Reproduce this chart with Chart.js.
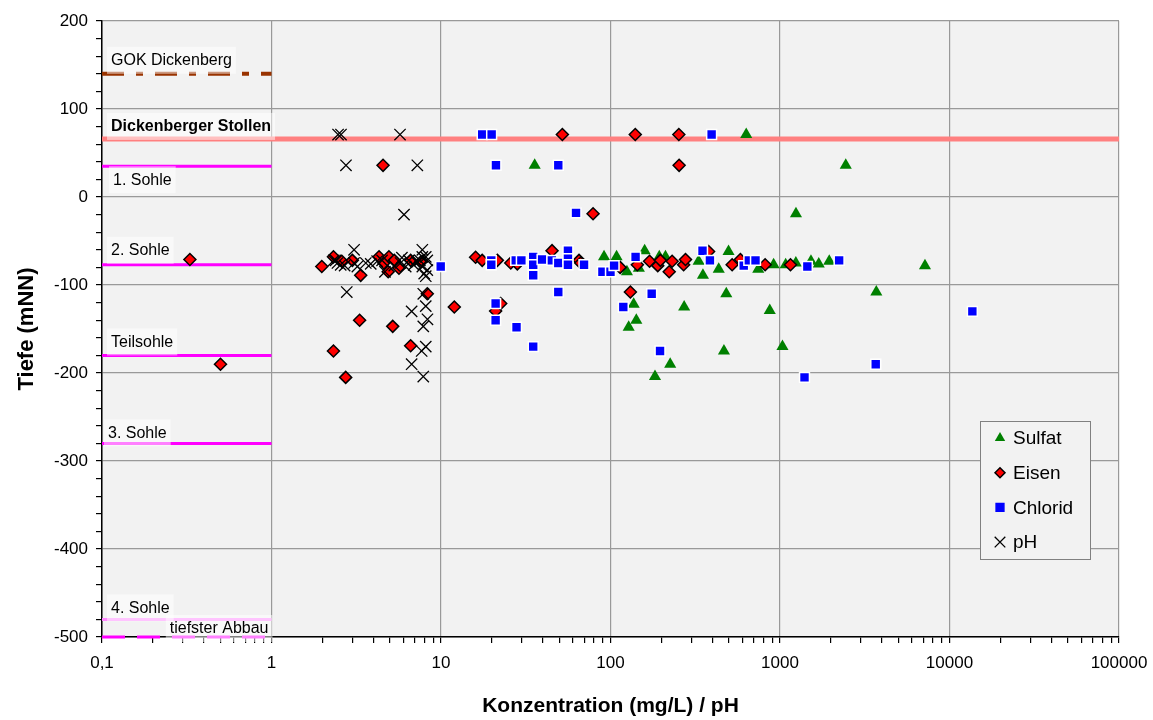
<!DOCTYPE html>
<html lang="de">
<head>
<meta charset="utf-8">
<title>Tiefe / Konzentration</title>
<script src="https://cdn.jsdelivr.net/npm/chart.js@4.4.1/dist/chart.umd.min.js"></script>
<style>
  html, body { margin: 0; padding: 0; background: #fff; }
  #wrap { width: 1153px; height: 720px; position: relative; }
</style>
</head>
<body>
<div id="wrap"><canvas id="chart"></canvas></div>
<script>
/* ── data: [Konzentration bzw. pH, Tiefe mNN] ── */
const sulfat = [
  [632, 71], [35.7, 36], [2443, 36], [1242, -19],
  [91.6, -68], [108.6, -68], [125, -85], [147, -81], [159, -61], [194, -68], [211, -68],
  [331, -73], [351, -89], [435, -82], [497, -62], [744, -82], [917, -77], [1080, -77],
  [1240, -75], [1523, -73], [1693, -76], [1952, -73], [7166, -78],
  [137, -122], [142, -140], [128, -148], [272, -125], [225, -190], [183, -204],
  [482, -110], [467, -175], [870, -129], [1034, -170], [3700, -108]
];
const eisen = [
  [52, 71], [140, 71], [253, 71], [4.55, 36], [254, 36], [78.9, -19],
  [0.33, -71], [0.5, -190],
  [1.98, -79], [2.32, -68], [2.6, -73], [3.0, -72], [3.36, -89], [4.31, -68], [4.6, -75],
  [4.93, -68], [4.88, -85], [5.3, -72], [5.65, -81], [6.62, -72], [7.6, -74],
  [8.3, -110], [3.31, -140], [5.19, -147], [2.32, -175], [6.62, -169], [2.74, -205],
  [11.98, -125], [22.5, -121], [21, -129.5], [131, -108],
  [16, -68.5], [17.5, -72], [21.5, -72], [25.8, -75], [28.2, -76], [45.2, -61], [65.2, -72],
  [66.8, -75], [114, -80], [144, -77], [170, -73], [190, -78], [197, -72], [222, -85],
  [231, -73], [270, -77], [277, -71], [379, -62], [522, -77], [584, -71], [817, -77], [1153, -77]
];
const chlorid = [
  [17.5, 71], [19.9, 71], [395, 71], [21.1, 36], [49.2, 36], [62.6, -18],
  [9.96, -79], [19.8, -72], [19.8, -77], [27.6, -72], [29.8, -72], [35, -68], [35, -77],
  [35, -89], [39.5, -71], [45.1, -72], [49.2, -75], [56.1, -61], [56.1, -70], [56.1, -77],
  [69.8, -77], [89.6, -85], [100, -85], [105, -78], [140.6, -68], [349, -61], [386, -72],
  [611, -78], [655, -72], [717, -72], [1450, -79], [2233, -72],
  [49.2, -108], [21, -121], [21, -140], [27.9, -148], [35, -170], [119, -125], [175, -110],
  [196, -175], [1395, -205], [13640, -130], [3671, -190]
];
const ph = [
  [2.47, 71], [2.57, 71], [5.73, 71], [2.75, 36], [7.25, 36], [6.05, -20],
  [2.33, -72], [2.45, -75], [2.56, -77], [2.39, -72], [2.7, -78], [3.07, -60], [3.07, -75],
  [3.21, -79], [3.6, -75], [3.85, -76], [4.2, -73], [4.49, -72], [4.67, -85], [5.3, -78],
  [5.77, -75], [5.88, -69], [6.19, -79], [6.46, -72], [6.9, -77], [7.2, -74], [7.5, -72],
  [7.76, -60], [7.76, -68], [7.76, -79], [7.96, -87], [8.13, -68], [8.13, -90], [8.3, -72], [8.3, -83],
  [2.78, -108], [6.71, -130], [8.13, -124], [8.32, -139], [7.86, -147], [8.13, -170],
  [7.69, -175], [6.71, -190], [7.86, -204], [7.86, -110]
];

/* Sohlen / Bezugshorizonte */
const levelNames  = ['GOK Dickenberg', 'Dickenberger Stollen', '1. Sohle', '2. Sohle',
                     'Teilsohle', '3. Sohle', '4. Sohle', 'tiefster Abbau'];
const levelDepths = [140, 66, 35, -77, -180, -280, -480, -500];
const levelEnds   = [1, 100000, 1, 1, 1, 1, 1, 1];

/* axis ticks */
const decadeTicks = [0.1, 1, 10, 100, 1000, 10000, 100000];
const xTickLabels = ['0,1', '1', '10', '100', '1000', '10000', '100000'];
const yMajorTicks = [200, 100, 0, -100, -200, -300, -400, -500];

const FONT = '"Liberation Sans", Arial, Helvetica, sans-serif';

/* ── styles ── */
const levelStyle = {
  'GOK Dickenberg':       { color: '#993300', width: 4, dash: [22, 12, 7, 12], dy: -14, dx: 9 },
  'Dickenberger Stollen': { color: '#ff8080', width: 5, dash: [], dy: -13, dx: 9, bold: true },
  '1. Sohle':             { color: '#ff00ff', width: 3, dash: [], dy: 13, dx: 11 },
  '2. Sohle':             { color: '#ff00ff', width: 3, dash: [], dy: -15, dx: 9 },
  'Teilsohle':            { color: '#ff00ff', width: 3, dash: [], dy: -14, dx: 9 },
  '3. Sohle':             { color: '#ff00ff', width: 3, dash: [], dy: -11, dx: 6 },
  '4. Sohle':             { color: '#ff88ff', width: 3, dash: [], dy: -12, dx: 9 },
  'tiefster Abbau':       { color: '#ff00ff', width: 3, dash: [23, 12], dy: -9, right: true }
};

const series = [
  { label: 'Sulfat',  data: sulfat,  pointStyle: 'triangle', radius: 7, bg: '#008000', border: '#008000', bw: 0,   order: 4, lr: 6 },
  { label: 'Eisen',   data: eisen,   pointStyle: 'rectRot',  radius: 6, bg: '#ff0000', border: '#000000', bw: 1.5, order: 3, lr: 5 },
  { label: 'Chlorid', data: chlorid, pointStyle: 'rect',     radius: 7, bg: '#0000ff', border: '#ffffff', bw: 1.5, order: 2, lr: 5.5 },
  { label: 'pH',      data: ph,      pointStyle: 'crossRot', radius: 8, bg: '#000000', border: '#000000', bw: 1.3, order: 1, lr: 7.5 }
];

const datasets = [];

levelNames.forEach((name, i) => {
  const s = levelStyle[name];
  datasets.push({
    label: name,
    data: [{ x: 0.1, y: levelDepths[i] }, { x: levelEnds[i], y: levelDepths[i] }],
    showLine: true,
    borderColor: s.color,
    backgroundColor: s.color,
    borderWidth: s.width,
    borderDash: s.dash,
    borderCapStyle: 'butt',
    pointRadius: 0,
    clip: false,
    order: 10
  });
});

series.forEach(s => {
  datasets.push({
    label: s.label,
    data: s.data.map(([x, y]) => ({ x, y })),
    pointStyle: s.pointStyle,
    pointRadius: s.radius,
    pointHoverRadius: s.radius,
    backgroundColor: s.bg,
    borderColor: s.border,
    pointBorderWidth: s.bw,
    borderWidth: s.bw,
    order: s.order
  });
});

/* ── plugins ── */
const plotBackground = {
  id: 'plotBackground',
  beforeDraw(chart) {
    const { ctx, chartArea: a } = chart;
    ctx.save();
    ctx.fillStyle = '#f2f2f2';
    ctx.fillRect(a.left, a.top, a.right - a.left, a.bottom - a.top);
    ctx.restore();
  }
};

function drawLevelLabels(chart) {
  const { ctx, chartArea, scales: { x, y } } = chart;
  ctx.save();
  ctx.textBaseline = 'middle';
  levelNames.forEach((name, i) => {
    const s = levelStyle[name];
    const py = y.getPixelForValue(levelDepths[i]) + s.dy;
    ctx.font = `${s.bold ? 'bold ' : ''}16px ${FONT}`;
    const w = ctx.measureText(name).width;
    const tx = s.right ? x.getPixelForValue(1) - 3 - w : chartArea.left + s.dx;
    ctx.fillStyle = 'rgba(255,255,255,0.5)';
    ctx.fillRect(tx - 4, py - 13, w + 8, 27);
    ctx.fillStyle = '#000';
    ctx.fillText(name, tx, py + 1);
  });
  ctx.restore();
}

function drawLegend(chart) {
  const { ctx, chartArea } = chart;
  const bx = chartArea.right - 139, by = chartArea.top + 400;
  const bw = 110, bh = 138;
  ctx.save();
  ctx.fillStyle = '#f2f2f2';
  ctx.fillRect(bx, by, bw, bh);
  ctx.strokeStyle = '#808080';
  ctx.lineWidth = 1;
  ctx.strokeRect(bx + 0.5, by + 0.5, bw, bh);
  ctx.font = `19px ${FONT}`;
  ctx.textBaseline = 'middle';
  series.forEach((s, i) => {
    const cy = by + 17 + i * 34.7;
    ctx.fillStyle = s.bg;
    ctx.strokeStyle = s.pointStyle === 'rect' ? s.bg : s.border;
    ctx.lineWidth = s.bw;
    Chart.helpers.drawPoint(ctx, { pointStyle: s.pointStyle, radius: s.lr, borderWidth: s.bw, rotation: 0 }, bx + 20, cy);
    ctx.fillStyle = '#000';
    ctx.fillText(s.label, bx + 33, cy + 1);
  });
  ctx.restore();
}

const overlay = {
  id: 'overlay',
  afterDatasetsDraw(chart) {
    drawLevelLabels(chart);
    drawLegend(chart);
  }
};

/* ── chart ── */
new Chart(document.getElementById('chart'), {
  type: 'scatter',
  data: { datasets },
  plugins: [plotBackground, overlay],
  options: {
    responsive: true,
    maintainAspectRatio: false,
    animation: false,
    layout: { padding: { top: 21, right: 34, left: 0, bottom: 0 } },
    plugins: {
      legend: { display: false },
      tooltip: { enabled: false }
    },
    scales: {
      x: {
        type: 'logarithmic',
        min: 0.1,
        max: 100000,
        afterBuildTicks(scale) {
          const ticks = [];
          decadeTicks.forEach((d, i) => {
            ticks.push({ value: d });
            if (i < decadeTicks.length - 1) {
              for (let k = 2; k <= 9; k++) ticks.push({ value: d * k });
            }
          });
          scale.ticks = ticks;
        },
        afterFit(scale) {
          scale.height = 83;
          // last label overhang only, without the tick padding
          scale.paddingRight = 30;
          scale.paddingLeft = 15;
        },
        ticks: {
          autoSkip: false,
          maxRotation: 0,
          padding: 10,
          color: '#000',
          font: { family: FONT, size: 17 },
          callback(value) {
            const i = decadeTicks.indexOf(value);
            return i >= 0 ? xTickLabels[i] : '';
          }
        },
        grid: {
          color: ctx => decadeTicks.includes(ctx.tick && ctx.tick.value) ? '#999999' : 'rgba(0,0,0,0)',
          lineWidth: 1.2,
          tickColor: '#000',
          tickLength: 6,
          drawTicks: true
        },
        border: { color: '#000', width: 1.5 },
        title: {
          display: true,
          text: 'Konzentration (mg/L) / pH',
          color: '#000',
          font: { family: FONT, size: 21, weight: 'bold' },
          padding: { top: 0, bottom: 1 }
        }
      },
      y: {
        type: 'linear',
        min: -500,
        max: 200,
        afterFit(scale) { scale.width = 102; },
        ticks: {
          stepSize: 20,
          autoSkip: false,
          padding: 8,
          color: '#000',
          font: { family: FONT, size: 17 },
          callback(value) {
            return yMajorTicks.includes(value) ? String(value) : '';
          }
        },
        grid: {
          color: ctx => yMajorTicks.includes(ctx.tick && ctx.tick.value) ? '#999999' : 'rgba(0,0,0,0)',
          lineWidth: 1.2,
          tickColor: '#000',
          tickLength: 6
        },
        border: { color: '#000', width: 1.5 },
        title: {
          display: true,
          text: 'Tiefe (mNN)',
          color: '#000',
          font: { family: FONT, size: 22, weight: 'bold' },
          padding: { top: 14, bottom: 0 }
        }
      }
    }
  }
});
</script>
</body>
</html>
